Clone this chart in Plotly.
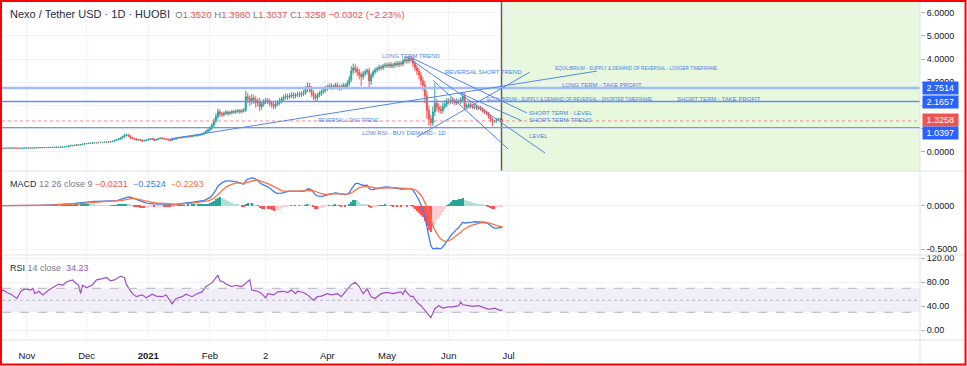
import pandas as pd
import plotly.graph_objects as go
from plotly.subplots import make_subplots

# ---------------- data ----------------
start_date = "2020-10-19"
first_open = 0.150

close_oct = [0.152, 0.150, 0.155, 0.158, 0.154, 0.156, 0.160, 0.157, 0.153, 0.149, 0.152, 0.156, 0.158]
close_nov = [0.160, 0.163, 0.159, 0.162, 0.167, 0.171, 0.168, 0.174, 0.178, 0.175, 0.181, 0.186, 0.183, 0.189, 0.194,
             0.198, 0.192, 0.201, 0.207, 0.215, 0.226, 0.251, 0.274, 0.262, 0.281, 0.297, 0.288, 0.312, 0.330, 0.345]
close_dec = [0.352, 0.368, 0.359, 0.377, 0.390, 0.382, 0.396, 0.405, 0.398, 0.412, 0.425, 0.418, 0.432, 0.447, 0.489,
             0.512, 0.548, 0.596, 0.642, 0.708, 0.725, 0.690, 0.612, 0.575, 0.548, 0.512, 0.529, 0.495, 0.468, 0.486, 0.503]
close_jan = [0.532, 0.561, 0.545, 0.498, 0.527, 0.566, 0.589, 0.574, 0.551, 0.536, 0.512, 0.498, 0.529, 0.547, 0.583,
             0.612, 0.598, 0.624, 0.651, 0.633, 0.662, 0.648, 0.679, 0.701, 0.688, 0.712, 0.739, 0.762, 0.815, 0.872, 0.934]
close_feb = [1.012, 1.148, 1.326, 1.512, 1.724, 1.635, 1.598, 1.662, 1.705, 1.652, 1.689, 1.731, 1.702, 1.748, 1.771,
             1.726, 1.764, 1.802, 2.374, 2.286, 2.195, 2.318, 2.241, 2.103, 2.178, 1.956, 2.062, 2.148]
close_mar = [2.212, 2.164, 2.089, 2.021, 1.968, 2.054, 2.112, 2.198, 2.276, 2.348, 2.392, 2.364, 2.418, 2.456, 2.402,
             2.438, 2.486, 2.462, 2.511, 2.538, 2.694, 2.836, 2.712, 2.548, 2.386, 2.312, 2.445, 2.512, 2.586, 2.648, 2.724]
close_apr = [2.786, 2.842, 2.768, 2.812, 2.874, 2.796, 2.738, 2.816, 2.862, 2.794, 2.948, 3.124, 3.482, 3.612, 3.554,
             3.432, 3.318, 3.246, 3.368, 3.452, 3.498, 3.052, 3.286, 3.448, 3.526, 3.584, 3.652, 3.618, 3.694, 3.742]
close_may = [3.712, 3.768, 3.694, 3.736, 3.802, 3.758, 3.824, 3.786, 3.912, 3.968, 3.924, 4.012, 3.986, 3.812, 3.624,
             3.486, 3.318, 3.062, 2.876, 2.412, 1.786, 1.412, 1.248, 1.712, 2.086, 1.924, 1.836, 1.768, 1.952, 2.048, 2.186]
close_jun = [2.142, 2.218, 2.176, 2.104, 2.186, 2.152, 2.236, 2.384, 1.926, 1.982, 2.034, 1.962, 1.918, 1.946, 1.872,
             1.904, 1.836, 1.768, 1.712, 1.648, 1.524, 1.386, 1.298, 1.312, 1.386, 1.402, 1.352, 1.3258]

up_oct = [.004, .003, .005, .004, .003, .006, .004, .003, .005, .004, .003, .005, .004]
lo_oct = [.003, .005, .004, .003, .006, .004, .003, .005, .004, .006, .003, .004, .005]
up_nov = [.005, .004, .006, .005, .004, .007, .005, .006, .004, .005, .006, .005, .007, .006, .005,
          .006, .008, .006, .007, .009, .012, .018, .021, .015, .017, .014, .019, .016, .018, .015]
lo_nov = [.004, .006, .005, .004, .006, .005, .007, .004, .006, .005, .004, .006, .005, .007, .006,
          .005, .007, .006, .008, .007, .010, .009, .016, .024, .013, .015, .022, .014, .013, .017]
up_dec = [.014, .016, .012, .015, .018, .013, .016, .014, .017, .015, .019, .016, .018, .022, .026,
          .031, .034, .038, .045, .052, .061, .048, .036, .031, .028, .033, .029, .026, .031, .027, .024]
lo_dec = [.012, .015, .018, .013, .016, .019, .014, .017, .015, .018, .014, .021, .016, .019, .023,
          .027, .026, .032, .037, .041, .046, .058, .062, .044, .036, .038, .031, .042, .047, .029, .026]
up_jan = [.028, .032, .026, .031, .029, .034, .027, .031, .025, .029, .033, .027, .024, .029, .031,
          .026, .032, .028, .031, .027, .033, .029, .031, .034, .028, .032, .036, .041, .052, .068, .074]
lo_jan = [.026, .031, .038, .046, .028, .025, .032, .034, .029, .031, .036, .041, .027, .024, .028,
          .033, .026, .029, .031, .034, .027, .032, .028, .031, .035, .029, .026, .032, .038, .046, .051]
up_feb = [.082, .094, .108, .126, .142, .096, .084, .078, .086, .072, .081, .068, .074, .079, .066,
          .071, .078, .084, .256, .168, .142, .176, .134, .152, .128, .146, .118, .124]
lo_feb = [.068, .072, .086, .094, .118, .132, .098, .082, .076, .094, .078, .086, .072, .069, .081,
          .088, .076, .071, .094, .186, .214, .158, .176, .198, .164, .212, .138, .116]
up_mar = [.116, .108, .124, .096, .112, .128, .104, .118, .096, .108, .124, .112, .098, .106, .118,
          .094, .102, .112, .096, .118, .142, .156, .128, .118, .106, .124, .098, .112, .094, .108, .116]
lo_mar = [.098, .112, .134, .126, .142, .108, .096, .104, .118, .092, .106, .128, .094, .102, .114,
          .098, .086, .108, .094, .102, .096, .112, .148, .176, .154, .132, .102, .094, .108, .096, .102]
up_apr = [.104, .096, .112, .088, .098, .108, .094, .086, .102, .094, .124, .148, .212, .196, .164,
          .128, .146, .112, .118, .106, .096, .124, .108, .096, .112, .088, .104, .092, .098, .106]
lo_apr = [.098, .086, .102, .094, .088, .112, .098, .092, .086, .104, .092, .108, .124, .138, .156,
          .174, .198, .412, .142, .118, .126, .286, .176, .112, .094, .108, .096, .104, .088, .092]
up_may = [.098, .086, .102, .094, .088, .112, .096, .104, .118, .126, .108, .136, .112, .124, .098,
          .116, .134, .142, .168, .184, .226, .196, .162, .248, .864, .192, .168, .146, .156, .174, .138]
lo_may = [.092, .104, .088, .096, .102, .094, .108, .112, .098, .104, .126, .118, .132, .156, .142,
          .168, .184, .212, .246, .312, .368, .286, .162, .148, .164, .186, .152, .138, .126, .118, .134]
up_jun = [.128, .112, .124, .106, .118, .096, .112, .186, .148, .104, .098, .086, .094, .082, .096,
          .088, .078, .084, .076, .072, .068, .074, .062, .058, .064, .056, .052, .046]
lo_jun = [.108, .094, .116, .102, .088, .098, .092, .104, .132, .096, .084, .092, .078, .086, .074,
          .082, .068, .076, .084, .072, .094, .112, .198, .064, .058, .052, .048, .0221]

# RSI 14: day offset from start_date, value
rsi_day = [0, 1, 3, 5, 8, 10, 12, 15, 16, 17, 19, 21, 24, 26, 29, 31, 33, 36, 37, 39, 40, 41, 43, 46, 48, 51, 53,
           55, 57, 60, 62, 63, 66, 68, 71, 73, 76, 78, 81, 83, 86, 88, 91, 93, 96, 98, 101, 103, 106, 109, 110,
           112, 113, 116, 118, 121, 124, 125, 126, 129, 131, 133, 134, 137, 139, 142, 144, 146, 148, 149, 152,
           154, 157, 159, 161, 164, 166, 169, 171, 174, 176, 178, 180, 182, 184, 186, 188, 191, 194, 197, 201,
           202, 203, 205, 206, 207, 209, 211, 213, 215, 216, 218, 220, 222, 225, 227, 230, 231, 232, 235, 237,
           240, 242, 245, 247, 248, 251, 252]
rsi_val = [64, 67, 63, 60, 53, 65, 69, 67, 70, 61, 65, 59, 67, 71, 77, 75, 81, 84, 80, 75, 61, 75, 71, 76, 84, 86,
           88, 82.6, 84, 90, 88, 76, 61, 56, 59, 54, 60, 57, 56, 59, 44, 53, 56, 60, 56, 60, 64, 73, 79, 92, 82.6,
           80, 77, 73, 75, 73, 81, 84, 67, 65, 61, 54, 61, 59, 64, 65, 63, 67, 61, 65, 63, 59, 50, 56, 57, 61, 59,
           61, 56, 67, 76, 80, 73, 61, 69, 56, 53, 61, 63, 61, 64, 60, 67, 59, 56, 57, 47, 41, 33, 24, 21, 36, 41,
           37, 39, 39, 41, 47, 42.6, 41, 40, 41, 39, 35, 36, 37, 33, 34.23]

# horizontal levels drawn on the price pane
level_long_tp = 2.7514
level_short_tp = 2.1657
level_support = 1.0397
last_price = 1.3258

# trend lines drawn on the price pane: (start date, start price, end date, end price)
trend_lines = [
    ("2021-01-11 22:00", 0.55, "2021-08-14 12:00", 3.48),
    ("2021-05-16 00:00", 0.63, "2021-07-11 19:00", 3.44),
    ("2021-05-11 00:00", 4.09, "2021-07-19 10:00", -0.06),
    ("2021-05-13 12:00", 4.04, "2021-07-10 07:00", 1.67),
    ("2021-05-24 00:00", 3.09, "2021-06-30 19:00", 0.12),
    ("2021-06-06 17:00", 2.53, "2021-07-07 19:00", 1.33),
]

# drawing labels: (text, date, price, font size)
drawing_labels = [
    ("LONG TERM TREND", "2021-04-27 11:00", 4.13, 6.0),
    ("REVERSAL SHORT TREND", "2021-05-29 02:00", 3.44, 6.0),
    ("EQUILIBRIUM - SUPPLY &amp; DEMAND OF REVERSAL - LONGER TIMEFRAME", "2021-07-23 10:00", 3.57, 4.6),
    ("LONG TERM - TAKE PROFIT", "2021-07-26 22:00", 2.88, 6.0),
    ("EQUILIBRIUM - SUPPLY &amp; DEMAND OF REVERSAL - SHORTER TIMEFRAME", "2021-06-19 05:00", 2.25, 4.6),
    ("SHORT TERM - TAKE PROFIT", "2021-09-22 17:00", 2.27, 6.0),
    ("SHORT TERM - LEVEL", "2021-07-10 07:00", 1.67, 6.0),
    ("SHORT-TERM-TREND", "2021-07-10 07:00", 1.37, 6.0),
    ("LEVEL", "2021-07-10 07:00", 0.68, 6.0),
    ("REVERSAL LONG TREND", "2021-03-26 07:00", 1.37, 5.0),
    ("LOW RSI - BUY DEMAND - 1D", "2021-04-17 10:00", 0.81, 6.0),
]

month_ticks = ["2020-11-01", "2020-12-01", "2021-01-01", "2021-02-01", "2021-03-01",
               "2021-04-01", "2021-05-01", "2021-06-01", "2021-07-01"]
month_text = ["Nov", "Dec", "<b>2021</b>", "Feb", "2", "Apr", "May", "Jun", "Jul"]

price_ticks = [0, 1, 2, 3, 4, 5, 6]
price_text = ["0.0000", "", "", "3.0000", "4.0000", "5.0000", "6.0000"]
macd_ticks = [-0.5, 0]
macd_text = ["-0.5000", "0.0000"]
rsi_ticks = [0, 40, 80, 120]
rsi_text = ["0.00", "40.00", "80.00", "120.00"]

# ---------------- assemble ----------------
closes = close_oct + close_nov + close_dec + close_jan + close_feb + close_mar + close_apr + close_may + close_jun
up_w = up_oct + up_nov + up_dec + up_jan + up_feb + up_mar + up_apr + up_may + up_jun
lo_w = lo_oct + lo_nov + lo_dec + lo_jan + lo_feb + lo_mar + lo_apr + lo_may + lo_jun
assert len(closes) == len(up_w) == len(lo_w) == 253
assert len(rsi_day) == len(rsi_val)

t0 = pd.Timestamp(start_date)
dates = pd.date_range(t0, periods=len(closes), freq="D")
opens = [first_open] + closes[:-1]
highs = [max(o, c) + u for o, c, u in zip(opens, closes, up_w)]
lows = [min(o, c) - l for o, c, l in zip(opens, closes, lo_w)]

s = pd.Series(closes)
ema12 = s.ewm(span=12, adjust=False).mean()
ema26 = s.ewm(span=26, adjust=False).mean()
macd = ema12 - ema26
signal = macd.ewm(span=9, adjust=False).mean()
hist = macd - signal
hcol = []
for i, h in enumerate(hist):
    p = hist[i - 1] if i > 0 else 0
    if h >= 0:
        hcol.append("#26a69a" if h >= p else "#b2dfdb")
    else:
        hcol.append("#ff5252" if h < p else "#ffcdd2")

rsi_x = [t0 + pd.Timedelta(days=d) for d in rsi_day]

UP, DN = "#26a69a", "#ef5350"
BLUE = "#5585ee"
FONT = "Liberation Sans, Arial, sans-serif"

fig = make_subplots(rows=3, cols=1, shared_xaxes=True, vertical_spacing=0)
fig.add_trace(go.Candlestick(
    x=dates, open=opens, high=highs, low=lows, close=closes,
    increasing=dict(line=dict(color=UP, width=1), fillcolor=UP),
    decreasing=dict(line=dict(color=DN, width=1), fillcolor=DN),
    whiskerwidth=0, showlegend=False, hoverinfo="skip"), row=1, col=1)

fig.add_trace(go.Bar(x=dates, y=hist, marker=dict(color=hcol, line=dict(width=0)),
                     width=0.6 * 86400000, showlegend=False, hoverinfo="skip"), row=2, col=1)
fig.add_trace(go.Scatter(x=dates, y=macd, mode="lines", line=dict(color="#3f7ef2", width=1.3),
                         showlegend=False, hoverinfo="skip"), row=2, col=1)
fig.add_trace(go.Scatter(x=dates, y=signal, mode="lines", line=dict(color="#ff7043", width=1.3),
                         showlegend=False, hoverinfo="skip"), row=2, col=1)
fig.add_trace(go.Scatter(x=rsi_x, y=rsi_val, mode="lines", line=dict(color="#a14fc4", width=1.2),
                         showlegend=False, hoverinfo="skip"), row=3, col=1)

# ---------------- layout ----------------
x_lo = t0 + pd.Timedelta(days=0.5)
x_hi = t0 + pd.Timedelta(days=461.8)
split_line = "2021-06-27 12:00"
GRID = "#f0f3fa"
AXC = "#131722"

fig.update_layout(
    width=967, height=366, margin=dict(l=2, r=47, t=2, b=26, autoexpand=False),
    paper_bgcolor="white", plot_bgcolor="white", showlegend=False, bargap=0,
    font=dict(family=FONT, size=9, color=AXC),
)
for i in (1, 2, 3):
    fig.update_xaxes(row=i, col=1, range=[x_lo, x_hi], tickvals=month_ticks, ticktext=month_text,
                     showgrid=True, gridcolor=GRID, gridwidth=1, zeroline=False, showline=False,
                     ticks="outside", ticklen=7, tickcolor="rgba(0,0,0,0)",
                     showticklabels=(i == 3), rangeslider=dict(visible=False),
                     tickfont=dict(size=9.5, color=AXC))
common_y = dict(side="right", ticks="outside", ticklen=4, tickcolor="#b2b5be", showgrid=True,
                gridcolor=GRID, zeroline=False, showline=False, tickfont=dict(size=9, color=AXC))
fig.update_yaxes(row=1, col=1, domain=[0.5, 1.0], range=[-0.833, 6.461],
                 tickvals=price_ticks, ticktext=price_text, **common_y)
fig.update_yaxes(row=2, col=1, domain=[0.2515, 0.5], range=[-0.565, 0.398],
                 tickvals=macd_ticks, ticktext=macd_text, **common_y)
fig.update_yaxes(row=3, col=1, domain=[0.0, 0.2515], range=[-16.2, 125.5],
                 tickvals=rsi_ticks, ticktext=rsi_text, **common_y)

shapes = []
# future (projection) zone and current-bar line
shapes.append(dict(type="rect", xref="x", yref="y domain", x0=split_line, x1=x_hi, y0=0, y1=1,
                   fillcolor="#e8f8dc", line=dict(width=0), layer="below"))
shapes.append(dict(type="line", xref="x", yref="y domain", x0=split_line, x1=split_line, y0=0, y1=1,
                   line=dict(color="#5d606b", width=1.5)))
# horizontal levels
shapes.append(dict(type="line", xref="x domain", yref="y", x0=0, x1=1, y0=level_long_tp, y1=level_long_tp,
                   line=dict(color="#a3bcf6", width=2.6)))
shapes.append(dict(type="line", xref="x domain", yref="y", x0=0, x1=1, y0=level_short_tp, y1=level_short_tp,
                   line=dict(color="#6790ee", width=1.5)))
shapes.append(dict(type="line", xref="x domain", yref="y", x0=0, x1=1, y0=level_support, y1=level_support,
                   line=dict(color="#7199ef", width=1.2)))
shapes.append(dict(type="line", xref="x domain", yref="y", x0=0, x1=1, y0=last_price, y1=last_price,
                   line=dict(color="#f08a88", width=1, dash="dot")))
# trend lines
for xa, ya, xb, yb in trend_lines:
    shapes.append(dict(type="line", xref="x", yref="y", x0=xa, y0=ya, x1=xb, y1=yb,
                       line=dict(color=BLUE, width=1)))
# RSI band
shapes.append(dict(type="rect", xref="x3 domain", yref="y3", x0=0, x1=1, y0=30, y1=70,
                   fillcolor="rgba(126,87,194,0.10)", line=dict(width=0), layer="below"))
for lv, dsh in ((70, "dash"), (50, "dot"), (30, "dash")):
    shapes.append(dict(type="line", xref="x3 domain", yref="y3", x0=0, x1=1, y0=lv, y1=lv,
                       line=dict(color="#b2b5be", width=1, dash=dsh)))
# pane separators / axis boundary
for yp in (0.5, 0.2515, 0.0):
    shapes.append(dict(type="line", xref="paper", yref="paper", x0=-0.01, x1=1.05, y0=yp, y1=yp,
                       line=dict(color="#e0e3eb", width=1)))
shapes.append(dict(type="line", xref="paper", yref="paper", x0=1, x1=1, y0=-0.07, y1=1.01,
                   line=dict(color="#e0e3eb", width=1)))
# outer red frame
shapes.append(dict(type="rect", xref="paper", yref="paper", x0=-0.0011, x1=1.0496, y0=-0.0725, y1=1.003,
                   line=dict(color="#ff0000", width=2), fillcolor="rgba(0,0,0,0)"))
fig.update_layout(shapes=shapes)

ann = []
for txt, xd, yp, fs in drawing_labels:
    ann.append(dict(xref="x", yref="y", x=xd, y=yp, text=txt, showarrow=False, xanchor="left",
                    yanchor="middle", font=dict(size=fs, color="#4f7fe8", family=FONT)))

G = "#787b86"
R = "#ef5350"
title = ("<span style='font-size:11px;color:#2a2e39'>Nexo / Tether USD · 1D · HUOBI</span>  "
         f"<span style='color:{G}'>O</span><span style='color:{R}'>1.3520</span> "
         f"<span style='color:{G}'>H</span><span style='color:{R}'>1.3980</span> "
         f"<span style='color:{G}'>L</span><span style='color:{R}'>1.3037</span> "
         f"<span style='color:{G}'>C</span><span style='color:{R}'>1.3258</span> "
         f"<span style='color:{R}'>−0.0302 (−2.23%)</span>")
ann.append(dict(xref="paper", yref="paper", x=0.0065, y=(340 - 14) / 338, text=title, showarrow=False,
                xanchor="left", yanchor="middle", font=dict(size=9.5, color="#434651", family=FONT)))
macd_leg = ("<span style='color:#2a2e39'>MACD</span> <span style='color:#787b86'>12 26 close 9</span> "
            "<span style='color:#ef5350'>−0.0231</span>  <span style='color:#3f7ef2'>−0.2524</span>  "
            "<span style='color:#ff7043'>−0.2293</span>")
ann.append(dict(xref="paper", yref="paper", x=0.0065, y=(340 - 184) / 338, text=macd_leg, showarrow=False,
                xanchor="left", yanchor="middle", font=dict(size=9, color="#434651", family=FONT)))
rsi_leg = ("<span style='color:#2a2e39'>RSI</span> <span style='color:#787b86'>14 close</span>  "
           "<span style='color:#a14fc4'>34.23</span>")
ann.append(dict(xref="paper", yref="paper", x=0.0065, y=(340 - 268) / 338, text=rsi_leg, showarrow=False,
                xanchor="left", yanchor="middle", font=dict(size=9, color="#434651", family=FONT)))

# price tags on the right scale
for val, col, shift in ((level_long_tp, "#2962ff", 0), (level_short_tp, "#2962ff", 0),
                        (last_price, "#ef5350", 0.5), (level_support, "#2962ff", -5.5)):
    ann.append(dict(xref="paper", yref="y", x=1.002, y=val, yshift=shift, text=f" {val:.4f} ",
                    showarrow=False, xanchor="left", yanchor="middle", bgcolor=col, borderpad=1,
                    font=dict(size=9, color="white", family=FONT)))
fig.update_layout(annotations=ann)

fig.write_html("out.html", config={"displayModeBar": False},
               post_script="document.body.style.margin='0';document.body.style.overflow='hidden';")
